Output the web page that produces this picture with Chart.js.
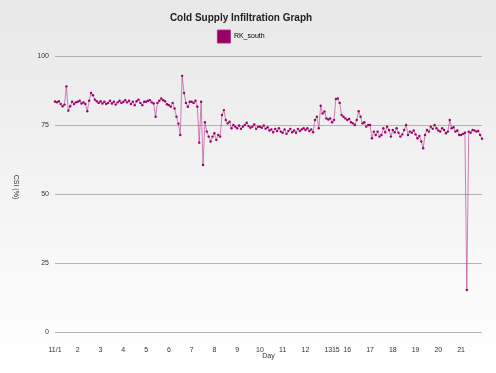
<!DOCTYPE html>
<html>
<head>
<meta charset="utf-8">
<script src="https://cdn.jsdelivr.net/npm/chart.js@4.4.1/dist/chart.umd.min.js"></script>
<style>
  html, body { margin: 0; padding: 0; }
  body { width: 496px; height: 373px; background: linear-gradient(#e8e8e8, #ffffff); }
  canvas { display: block; }
</style>
</head>
<body>
<canvas id="chartID" width="496" height="373"></canvas>
<script>
// day labels on the x axis (14th has no readings)
const dayLabels = ['11/1', '2', '3', '4', '5', '6', '7', '8', '9', '10', '11', '12', '13', '15', '16', '17', '18', '19', '20', '21']
// how many readings were logged each day
const pointsPerDay = [12, 12, 12, 12, 12, 12, 12, 12, 12, 12, 12, 12, 4, 6, 12, 12, 12, 12, 12, 12]

// CSI (%) readings for RK_south, one line per day
const rkSouth = [
	83.5, 83.2, 83.6, 82.6, 81.8, 82.4, 89.0, 80.2, 81.8, 83.4, 82.6, 83.2,
	83.4, 83.8, 82.8, 83.2, 82.6, 80.0, 83.8, 86.6, 85.8, 84.2, 83.6, 83.0,
	83.6, 82.8, 83.4, 82.6, 83.0, 83.8, 82.8, 83.4, 82.4, 83.2, 83.8, 83.0,
	83.4, 84.0, 83.2, 83.8, 82.6, 83.4, 82.2, 83.6, 84.2, 83.0, 82.2, 83.4,
	83.4, 83.8, 84.0, 83.2, 82.8, 78.0, 83.0, 83.8, 84.6, 84.0, 83.6, 82.5,
	82.2, 81.6, 83.0, 81.0, 78.0, 75.5, 71.4, 92.8, 86.6, 83.0, 81.6, 83.4,
	83.4, 83.0, 83.8, 81.6, 68.6, 83.4, 60.5, 76.0, 72.6, 70.8, 69.0, 70.8,
	72.0, 69.6, 71.4, 70.8, 78.6, 80.4, 76.8, 75.6, 76.2, 73.8, 75.0, 74.4,
	73.8, 74.8, 73.6, 74.4, 75.0, 75.8, 74.6, 74.0, 74.4, 75.2, 73.6, 74.4,
	74.4, 74.0, 74.8, 73.6, 74.2, 73.0, 73.4, 72.4, 73.6, 72.8, 73.8, 72.6,
	72.2, 73.4, 71.8, 72.8, 73.6, 72.4, 73.0, 72.2, 73.6, 72.8, 73.4, 73.8,
	73.2, 73.8, 72.8, 73.4, 72.4, 76.8, 78.0, 73.8, 82.0, 79.2, 79.9, 77.4,
	77.0, 77.4, 76.0, 76.8,
	84.4, 84.6, 83.0, 78.6, 78.0, 77.4,
	76.8, 77.2, 76.0, 75.6, 75.0, 76.8, 80.0, 78.0, 75.6, 76.0, 74.4, 75.0,
	75.0, 70.2, 72.6, 71.4, 72.6, 70.8, 71.4, 73.8, 72.4, 74.4, 73.2, 70.8,
	73.2, 72.4, 73.8, 72.2, 70.8, 71.6, 73.2, 75.0, 71.4, 72.6, 72.2, 73.0,
	71.6, 70.2, 71.0, 69.0, 66.6, 71.4, 73.2, 72.6, 74.4, 73.6, 75.0, 73.8,
	73.0, 72.6, 73.8, 73.2, 72.0, 72.6, 76.8, 73.8, 74.2, 72.6, 73.0, 71.4,
	71.4, 71.8, 72.2, 15.2, 72.6, 72.2, 73.2, 73.0, 72.6, 72.8, 71.4, 70.0,
]

const yTicks = [0, 25, 50, 75, 100]

// one category per reading, label only on the first reading of a day
let labels = []
dayLabels.forEach(function(day, d) {
	for (let k = 0; k < pointsPerDay[d]; k++) {
		labels.push(k === 0 ? day : '')
	}
})

const font = 'Liberation Sans, Arial, sans-serif'

// y title reads top to bottom in the original
const yTitlePlugin = {
	id: 'yTitle',
	afterDraw(chart) {
		const ctx = chart.ctx
		ctx.save()
		ctx.translate(16, 187)
		ctx.rotate(Math.PI / 2)
		ctx.font = '7px ' + font
		ctx.fillStyle = '#333'
		ctx.textAlign = 'center'
		ctx.textBaseline = 'middle'
		ctx.fillText('CSI (%)', 0, 0)
		ctx.restore()
	},
}

const legendSpace = {
	id: 'legendSpace',
	beforeInit(chart) {
		const fit = chart.legend.fit
		chart.legend.fit = function() {
			fit.bind(chart.legend)()
			this.height = 28
		}
	},
}

function drawLineChart() {
	let chartCtx = document.getElementById('chartID').getContext('2d')
	new Chart(chartCtx, {
		type: 'line',
		data: {
			labels: labels,
			datasets: [{
				label: 'RK_south',
				data: rkSouth,
				fill: false,
				tension: 0,
				borderWidth: 1,
				borderColor: 'rgba(185, 50, 145, 0.6)',
				backgroundColor: '#990066',
				pointRadius: 1.2,
				pointBorderWidth: 0,
				pointBackgroundColor: '#9c0068',
			}],
		},
		options: {
			responsive: false,
			animation: false,
			layout: { padding: { top: 0, left: 0, right: 14, bottom: 0 } },
			plugins: {
				title: {
					display: true,
					text: 'Cold Supply Infiltration Graph',
					color: '#222',
					font: { family: font, size: 10, weight: 'bold' },
					padding: { top: 12, bottom: 4 },
				},
				legend: {
					labels: {
						boxWidth: 13,
						boxHeight: 13,
						padding: 2,
						color: '#333',
						font: { family: font, size: 7 },
						generateLabels: function() {
							return [{ text: 'RK_south', fillStyle: '#990066', strokeStyle: '#b0307f', lineWidth: 1 }]
						},
					},
				},
				tooltip: { enabled: false },
			},
			scales: {
				x: {
					afterFit: function(s) { s.height = 41 },
					grid: { display: false },
					border: { display: false },
					ticks: {
						autoSkip: false,
						maxRotation: 0,
						padding: 6,
						color: '#333',
						font: { family: font, size: 7 },
					},
					title: {
						display: true,
						text: 'Day',
						color: '#333',
						font: { family: font, size: 7 },
						padding: { top: 0, bottom: 13 },
					},
				},
				y: {
					min: yTicks[0],
					max: yTicks[yTicks.length - 1],
					afterFit: function(s) { s.width = 55 },
					afterBuildTicks: function(s) { s.ticks = yTicks.map(function(v) { return { value: v } }) },
					border: { display: false },
					grid: { color: '#b4b4b4', lineWidth: 1, drawTicks: false },
					ticks: {
						padding: 6,
						color: '#333',
						font: { family: font, size: 7 },
					},
				},
			},
		},
		plugins: [yTitlePlugin, legendSpace],
	})
}

drawLineChart()
</script>
</body>
</html>
